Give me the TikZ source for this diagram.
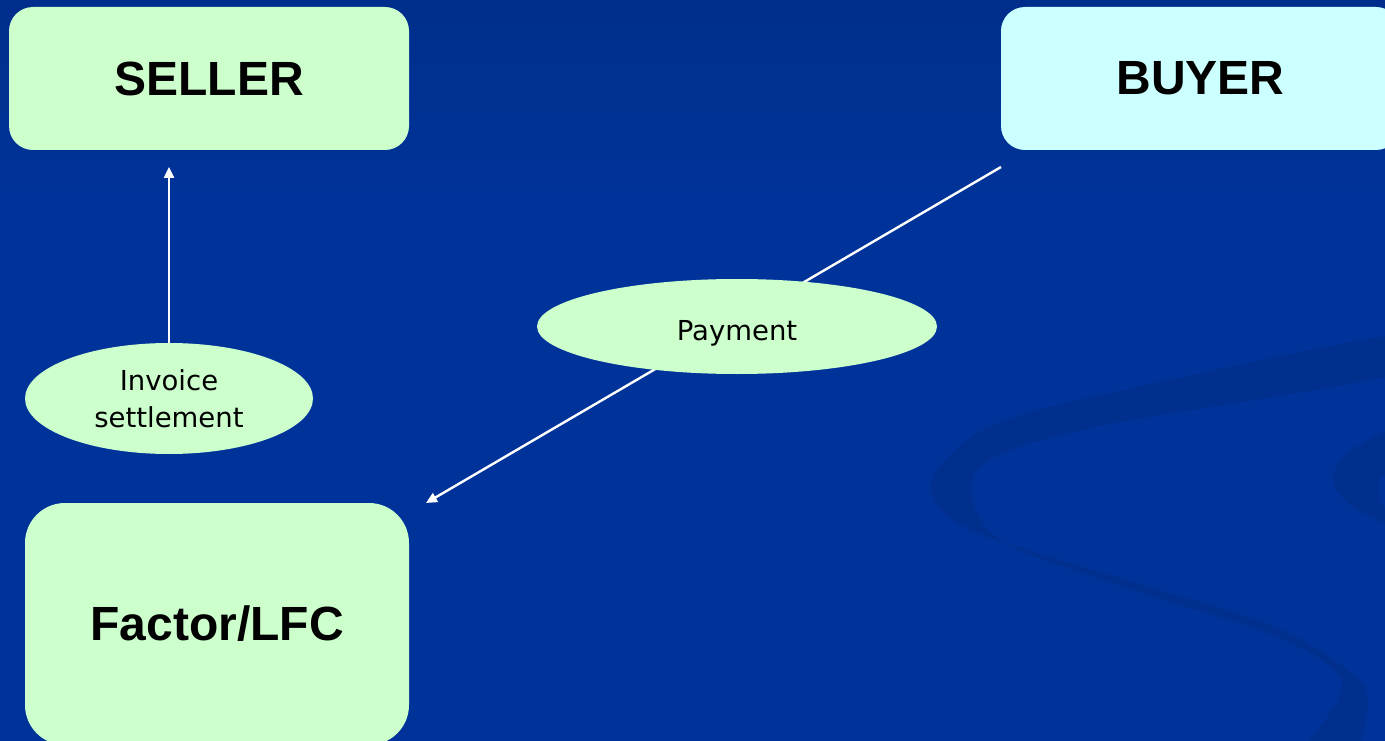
\documentclass[tikz,border=0pt]{standalone}
\usepackage{fontspec}
\setmainfont{Liberation Sans}
\newfontfamily\dv{DejaVu Sans}
\usetikzlibrary{shapes.geometric,arrows.meta}
\definecolor{bg}{HTML}{003399}
\definecolor{bgtop}{HTML}{002E8C}
\definecolor{swirl}{HTML}{002F8E}
\definecolor{pale}{HTML}{CCFFCC}
\definecolor{cyanpale}{HTML}{CCFFFF}
\tikzset{
  box/.style={draw=none, inner sep=0pt, font=\bfseries\fontsize{48}{52}\selectfont, text=black},
  oval/.style={ellipse, draw=none, fill=pale, inner sep=0pt, text=black, align=center,
               font=\dv\fontsize{27.5}{37}\selectfont},
  conn/.style={draw=white, line width=2.4pt, -{Triangle[length=11pt,width=10pt]}}
}
\begin{document}
\begin{tikzpicture}[x=1pt,y=-1pt]
\useasboundingbox (0,0) rectangle (1385,741);
\clip (0,0) rectangle (1385,741);
% background
\fill[bg] (0,0) rectangle (1385,741);
\shade[top color=bgtop, bottom color=bg] (0,0) rectangle (1385,200);
% swirl decoration
\fill[swirl] plot[smooth cycle, tension=0.55] coordinates {
  (1405,334) (1133,388) (1000,422) (945,460) (932,495) (975,532) (1133,582)
  (1270,625) (1345,668) (1368,700) (1350,760) (1300,760) (1338,700) (1334,670)
  (1270,634) (1133,590) (1005,543) (972,497) (990,460) (1100,426) (1405,372)};
\fill[swirl] plot[smooth cycle, tension=0.6] coordinates {
  (1400,428) (1352,450) (1333,477) (1350,505) (1400,528) (1382,505) (1380,480) (1400,462)};
% boxes
\node[box, fill=pale, minimum width=400pt, minimum height=143pt, rounded corners=24pt]
  (seller) at (209,78.5) {SELLER};
\node[box, fill=cyanpale, minimum width=399pt, minimum height=143pt, rounded corners=24pt]
  (buyer) at (1200.5,78.5) {BUYER};
\node[box, fill=pale, minimum width=384pt, minimum height=242pt, rounded corners=40pt]
  (factor) at (217,624) {Factor/LFC};
% connector coordinates
\coordinate (sellerIn) at (169,167);
\coordinate (buyerOut) at (1001,167);
\coordinate (factorIn) at (426,503);
% diagonal payment connector (under the ellipse)
\draw[conn] (buyerOut) -- (factorIn);
% ellipses
\node[oval, minimum width=288pt, minimum height=111pt] (invoice) at (169,398.5)
  {Invoice\\settlement};
\node[oval, minimum width=400pt, minimum height=95pt, text height=27pt, text depth=0pt]
  (payment) at (737,326.5) {Payment};
% invoice settlement connector
\draw[conn] (invoice.north) -- (sellerIn);
\end{tikzpicture}
\end{document}
